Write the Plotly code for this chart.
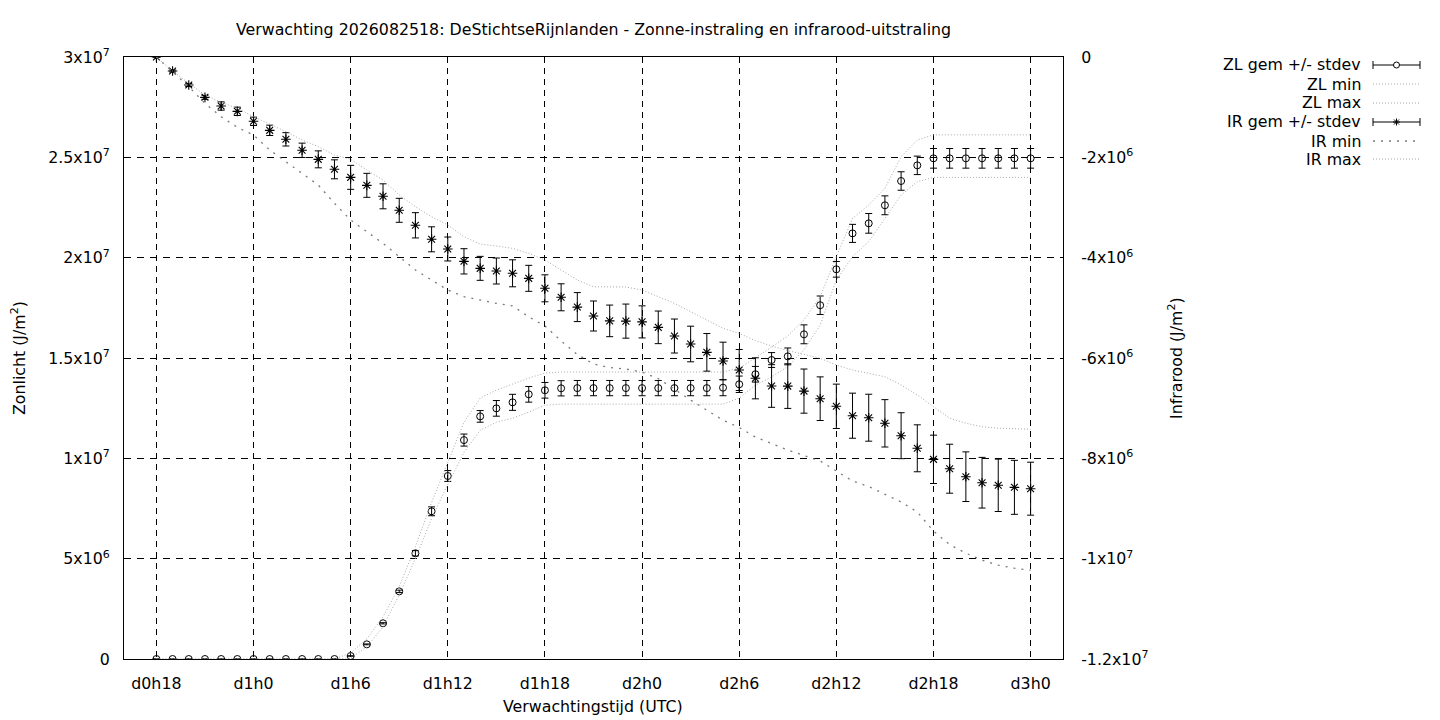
import plotly.graph_objects as go

# ---------------- data ----------------
hours = list(range(18, 73))
tick_hours = [18, 24, 30, 36, 42, 48, 54, 60, 66, 72]
tick_labels = ["d0h18", "d1h0", "d1h6", "d1h12", "d1h18", "d2h0", "d2h6", "d2h12", "d2h18", "d3h0"]

left_tickvals = [0, 5e6, 1e7, 1.5e7, 2e7, 2.5e7, 3e7]
left_ticktext = ["0", "5x10<sup>6</sup>", "1x10<sup>7</sup>", "1.5x10<sup>7</sup>",
                 "2x10<sup>7</sup>", "2.5x10<sup>7</sup>", "3x10<sup>7</sup>"]
right_tickvals = [0, -2e6, -4e6, -6e6, -8e6, -1e7, -1.2e7]
right_ticktext = ["0", "-2x10<sup>6</sup>", "-4x10<sup>6</sup>", "-6x10<sup>6</sup>",
                  "-8x10<sup>6</sup>", "-1x10<sup>7</sup>", "-1.2x10<sup>7</sup>"]

zl_mean = [0] * 12 + [
    1.5e5, 7.3e5, 1.78e6, 3.37e6, 5.27e6, 7.36e6, 9.12e6, 1.091e7, 1.209e7, 1.249e7,
    1.279e7, 1.319e7, 1.339e7, 1.349e7] + [1.35e7] * 9 + [
    1.352e7, 1.369e7, 1.419e7, 1.490e7, 1.508e7, 1.618e7, 1.763e7, 1.942e7, 2.121e7,
    2.171e7, 2.261e7, 2.382e7, 2.460e7] + [2.495e7] * 7

zl_std = [0] * 12 + [
    1e4, 2e4, 3e4, 6e4, 1.3e5, 2.2e5, 2.7e5, 3.0e5, 2.9e5, 3.9e5,
    4.0e5, 3.9e5, 3.9e5, 3.8e5] + [3.8e5] * 9 + [
    4.0e5, 4.1e5, 3.9e5, 3.7e5, 4.2e5, 4.7e5, 4.6e5, 3.9e5, 4.5e5,
    4.9e5, 4.7e5, 4.6e5, 4.6e5] + [4.9e5] * 7

zl_min = [0] * 12 + [
    5e4, 6e5, 1.6e6, 3.2e6, 5.0e6, 7.0e6, 8.7e6, 1.03e7, 1.14e7, 1.18e7,
    1.20e7, 1.23e7, 1.265e7] + [1.27e7] * 11 + [
    1.30e7, 1.365e7, 1.405e7, 1.457e7, 1.54e7, 1.664e7, 1.889e7, 2.005e7,
    2.08e7, 2.196e7, 2.312e7, 2.379e7] + [2.40e7] * 7

zl_max = [0] * 12 + [
    3e5, 1.0e6, 2.1e6, 3.6e6, 5.6e6, 7.8e6, 9.8e6, 1.18e7, 1.30e7, 1.34e7,
    1.37e7, 1.40e7, 1.425e7] + [1.43e7] * 11 + [
    1.45e7, 1.50e7, 1.555e7, 1.61e7, 1.69e7, 1.805e7, 2.005e7, 2.196e7,
    2.262e7, 2.346e7, 2.503e7, 2.586e7] + [2.612e7] * 7

ir_mean = [
    0, -2.79e5, -5.58e5, -8.04e5, -9.77e5, -1.083e6, -1.282e6, -1.462e6, -1.641e6, -1.860e6,
    -2.040e6, -2.239e6, -2.399e6, -2.558e6, -2.777e6, -3.056e6, -3.355e6, -3.634e6, -3.827e6,
    -4.073e6, -4.213e6, -4.266e6, -4.312e6, -4.412e6, -4.611e6, -4.790e6, -4.985e6, -5.163e6,
    -5.260e6, -5.265e6, -5.280e6, -5.389e6, -5.562e6, -5.721e6, -5.887e6, -6.060e6, -6.239e6,
    -6.405e6, -6.558e6, -6.560e6, -6.660e6, -6.811e6, -6.963e6, -7.150e6, -7.190e6, -7.302e6,
    -7.549e6, -7.800e6, -8.020e6, -8.207e6, -8.366e6, -8.486e6, -8.538e6, -8.578e6, -8.605e6]

ir_std = [
    0, 2e4, 3e4, 4e4, 8.3e4, 8.3e4, 8.3e4, 1.03e5, 1.33e5, 1.43e5,
    1.69e5, 1.89e5, 2.39e5, 2.39e5, 2.49e5, 2.39e5, 2.52e5, 2.49e5, 2.39e5,
    2.52e5, 2.39e5, 2.59e5, 2.69e5, 2.59e5, 2.69e5, 2.69e5, 2.89e5, 2.99e5,
    3.15e5, 3.4e5, 3.2e5, 3.25e5, 3.39e5, 3.55e5, 3.75e5, 3.75e5, 4.09e5,
    4.09e5, 4.25e5, 4.45e5, 4.40e5, 4.35e5, 4.42e5, 4.49e5, 4.68e5, 4.72e5,
    4.58e5, 4.68e5, 4.82e5, 4.88e5, 4.95e5, 5.05e5, 5.22e5, 5.38e5, 5.28e5]

ir_min = [
    0, -2.92e5, -5.91e5, -9.24e5, -1.19e6, -1.402e6, -1.555e6, -1.854e6, -2.087e6, -2.319e6,
    -2.552e6, -2.916e6, -3.249e6, -3.482e6, -3.715e6, -3.98e6, -4.246e6, -4.445e6, -4.645e6,
    -4.778e6, -4.844e6, -4.91e6, -4.96e6, -5.18e6, -5.36e6, -5.66e6, -5.93e6, -6.12e6,
    -6.19e6, -6.22e6, -6.28e6, -6.41e6, -6.62e6, -6.84e6, -7.04e6, -7.24e6, -7.386e6,
    -7.575e6, -7.705e6, -7.834e6, -7.944e6, -8.053e6, -8.253e6, -8.452e6, -8.562e6, -8.711e6,
    -8.871e6, -9.07e6, -9.45e6, -9.72e6, -9.89e6, -10.03e6, -10.13e6, -10.19e6, -10.23e6]

ir_max = [
    0, -2.8e5, -5.25e5, -7.57e5, -9.04e5, -1.023e6, -1.19e6, -1.336e6, -1.488e6, -1.654e6,
    -1.787e6, -1.953e6, -2.04e6, -2.253e6, -2.452e6, -2.751e6, -2.984e6, -3.183e6, -3.349e6,
    -3.582e6, -3.728e6, -3.768e6, -3.814e6, -3.914e6, -4.047e6, -4.246e6, -4.445e6, -4.58e6,
    -4.58e6, -4.585e6, -4.645e6, -4.778e6, -4.91e6, -5.077e6, -5.243e6, -5.409e6, -5.508e6,
    -5.655e6, -5.761e6, -5.854e6, -5.927e6, -6.006e6, -6.14e6, -6.24e6, -6.306e6, -6.373e6,
    -6.538e6, -6.738e6, -6.97e6, -7.20e6, -7.30e6, -7.37e6, -7.40e6, -7.415e6, -7.42e6]

legend_names = ["ZL gem +/- stdev", "ZL min", "ZL max", "IR gem +/- stdev", "IR min", "IR max"]

# ---------------- styles ----------------
FONT = "DejaVu Sans"
FS = 15.8
FINE_GRAY = "#a8a8a8"
COARSE_GRAY = "#7a7a7a"
FINE_DASH = "1px,2px"
COARSE_DASH = "2px,6px"

# plot area in pixels
L, R, T, B = 124, 1063, 57, 659
W, H = 1440, 720


def px(xp):
    return (xp - L) / (R - L)


def py(yp):
    return (B - yp) / (B - T)


fig = go.Figure()

fig.add_trace(go.Scatter(
    x=hours, y=zl_mean, mode="markers", name=legend_names[0],
    marker=dict(symbol="circle-open", size=7, color="black", line=dict(width=1)),
    error_y=dict(type="data", array=zl_std, visible=True, color="black", thickness=1, width=3.5),
    yaxis="y", showlegend=False))
fig.add_trace(go.Scatter(
    x=hours, y=zl_min, mode="lines", name=legend_names[1],
    line=dict(color=FINE_GRAY, width=1, dash=FINE_DASH), yaxis="y", showlegend=False))
fig.add_trace(go.Scatter(
    x=hours, y=zl_max, mode="lines", name=legend_names[2],
    line=dict(color=FINE_GRAY, width=1, dash=FINE_DASH), yaxis="y", showlegend=False))
fig.add_trace(go.Scatter(
    x=hours, y=ir_mean, mode="markers", name=legend_names[3],
    marker=dict(symbol="asterisk-open", size=8, color="black", line=dict(width=1.1, color="black")),
    error_y=dict(type="data", array=ir_std, visible=True, color="black", thickness=1, width=3.5),
    yaxis="y2", showlegend=False))
fig.add_trace(go.Scatter(
    x=hours, y=ir_min, mode="lines", name=legend_names[4],
    line=dict(color=COARSE_GRAY, width=1.3, dash=COARSE_DASH), yaxis="y2", showlegend=False))
fig.add_trace(go.Scatter(
    x=hours, y=ir_max, mode="lines", name=legend_names[5],
    line=dict(color=FINE_GRAY, width=1, dash=FINE_DASH), yaxis="y2", showlegend=False))

# ---------------- manual gnuplot-style key ----------------
annotations = []
shapes = []
key_rows = [65, 84, 103, 122, 141, 159]
kx0, kx1, ktext = 1373, 1420, 1363
for i, (name, yrow) in enumerate(zip(legend_names, key_rows)):
    annotations.append(dict(x=px(ktext), y=py(yrow), xref="paper", yref="paper",
                            text=name, showarrow=False, xanchor="right", yanchor="middle",
                            font=dict(family=FONT, size=FS, color="black")))
    if i in (0, 3):
        shapes.append(dict(type="line", xref="paper", yref="paper",
                           x0=px(kx0), x1=px(kx1), y0=py(yrow), y1=py(yrow),
                           line=dict(color="black", width=1)))
        for xe in (kx0, kx1):
            shapes.append(dict(type="line", xref="paper", yref="paper",
                               x0=px(xe), x1=px(xe), y0=py(yrow - 4), y1=py(yrow + 4),
                               line=dict(color="black", width=1)))
        cx = (kx0 + kx1) / 2
        if i == 0:
            shapes.append(dict(type="circle", xref="paper", yref="paper",
                               x0=px(cx - 3), x1=px(cx + 3), y0=py(yrow + 3), y1=py(yrow - 3),
                               fillcolor="white", line=dict(color="black", width=1)))
        else:
            for dx, dy in ((3.5, 0), (0, 3.5), (2.5, 2.5), (2.5, -2.5)):
                shapes.append(dict(type="line", xref="paper", yref="paper",
                                   x0=px(cx - dx), x1=px(cx + dx), y0=py(yrow - dy), y1=py(yrow + dy),
                                   line=dict(color="black", width=1)))
    else:
        if i == 4:
            col, dash, wd = COARSE_GRAY, COARSE_DASH, 1.3
        else:
            col, dash, wd = FINE_GRAY, FINE_DASH, 1
        shapes.append(dict(type="line", xref="paper", yref="paper",
                           x0=px(kx0), x1=px(kx1), y0=py(yrow), y1=py(yrow),
                           line=dict(color=col, width=wd, dash=dash)))

# axis titles
annotations.append(dict(x=px(18), y=py(358), xref="paper", yref="paper",
                        text="Zonlicht (J/m<sup>2</sup>)", textangle=-90, showarrow=False,
                        xanchor="center", yanchor="middle",
                        font=dict(family=FONT, size=FS, color="black")))
annotations.append(dict(x=px(1175), y=py(358), xref="paper", yref="paper",
                        text="Infrarood (J/m<sup>2</sup>)", textangle=-90, showarrow=False,
                        xanchor="center", yanchor="middle",
                        font=dict(family=FONT, size=FS, color="black")))
annotations.append(dict(x=px(593), y=py(706), xref="paper", yref="paper",
                        text="Verwachtingstijd (UTC)", showarrow=False,
                        xanchor="center", yanchor="middle",
                        font=dict(family=FONT, size=FS, color="black")))

fig.update_layout(
    width=W, height=H,
    margin=dict(l=L, r=W - R, t=T, b=H - B),
    paper_bgcolor="white", plot_bgcolor="white",
    font=dict(family=FONT, size=FS, color="black"),
    title=dict(text="Verwachting 2026082518: DeStichtseRijnlanden - Zonne-instraling en infrarood-uitstraling",
               x=0.5, xref="paper", y=1 - 29 / H, yref="container", xanchor="center", yanchor="middle",
               font=dict(family=FONT, size=FS, color="black")),
    xaxis=dict(range=[16, 74], tickvals=tick_hours, ticktext=tick_labels,
               showgrid=True, gridcolor="black", gridwidth=1, griddash="6px,5px",
               zeroline=False, showline=True, linecolor="black", linewidth=1, mirror=True,
               ticks="", ticklabelstandoff=10, fixedrange=True),
    yaxis=dict(range=[0, 3e7], tickvals=left_tickvals, ticktext=left_ticktext,
               showgrid=True, gridcolor="black", gridwidth=1, griddash="7px,6px",
               zeroline=False, showline=True, linecolor="black", linewidth=1,
               ticks="", ticklabelstandoff=10),
    yaxis2=dict(range=[-1.2e7, 0], tickvals=right_tickvals, ticktext=right_ticktext,
                overlaying="y", side="right", showgrid=False, zeroline=False,
                showline=True, linecolor="black", linewidth=1, ticks="", ticklabelstandoff=14),
    showlegend=False,
    annotations=annotations,
    shapes=shapes,
)

fig.write_html("out.html", config={"displayModeBar": False},
               post_script="document.body.style.margin='0';document.body.style.overflow='hidden';")
